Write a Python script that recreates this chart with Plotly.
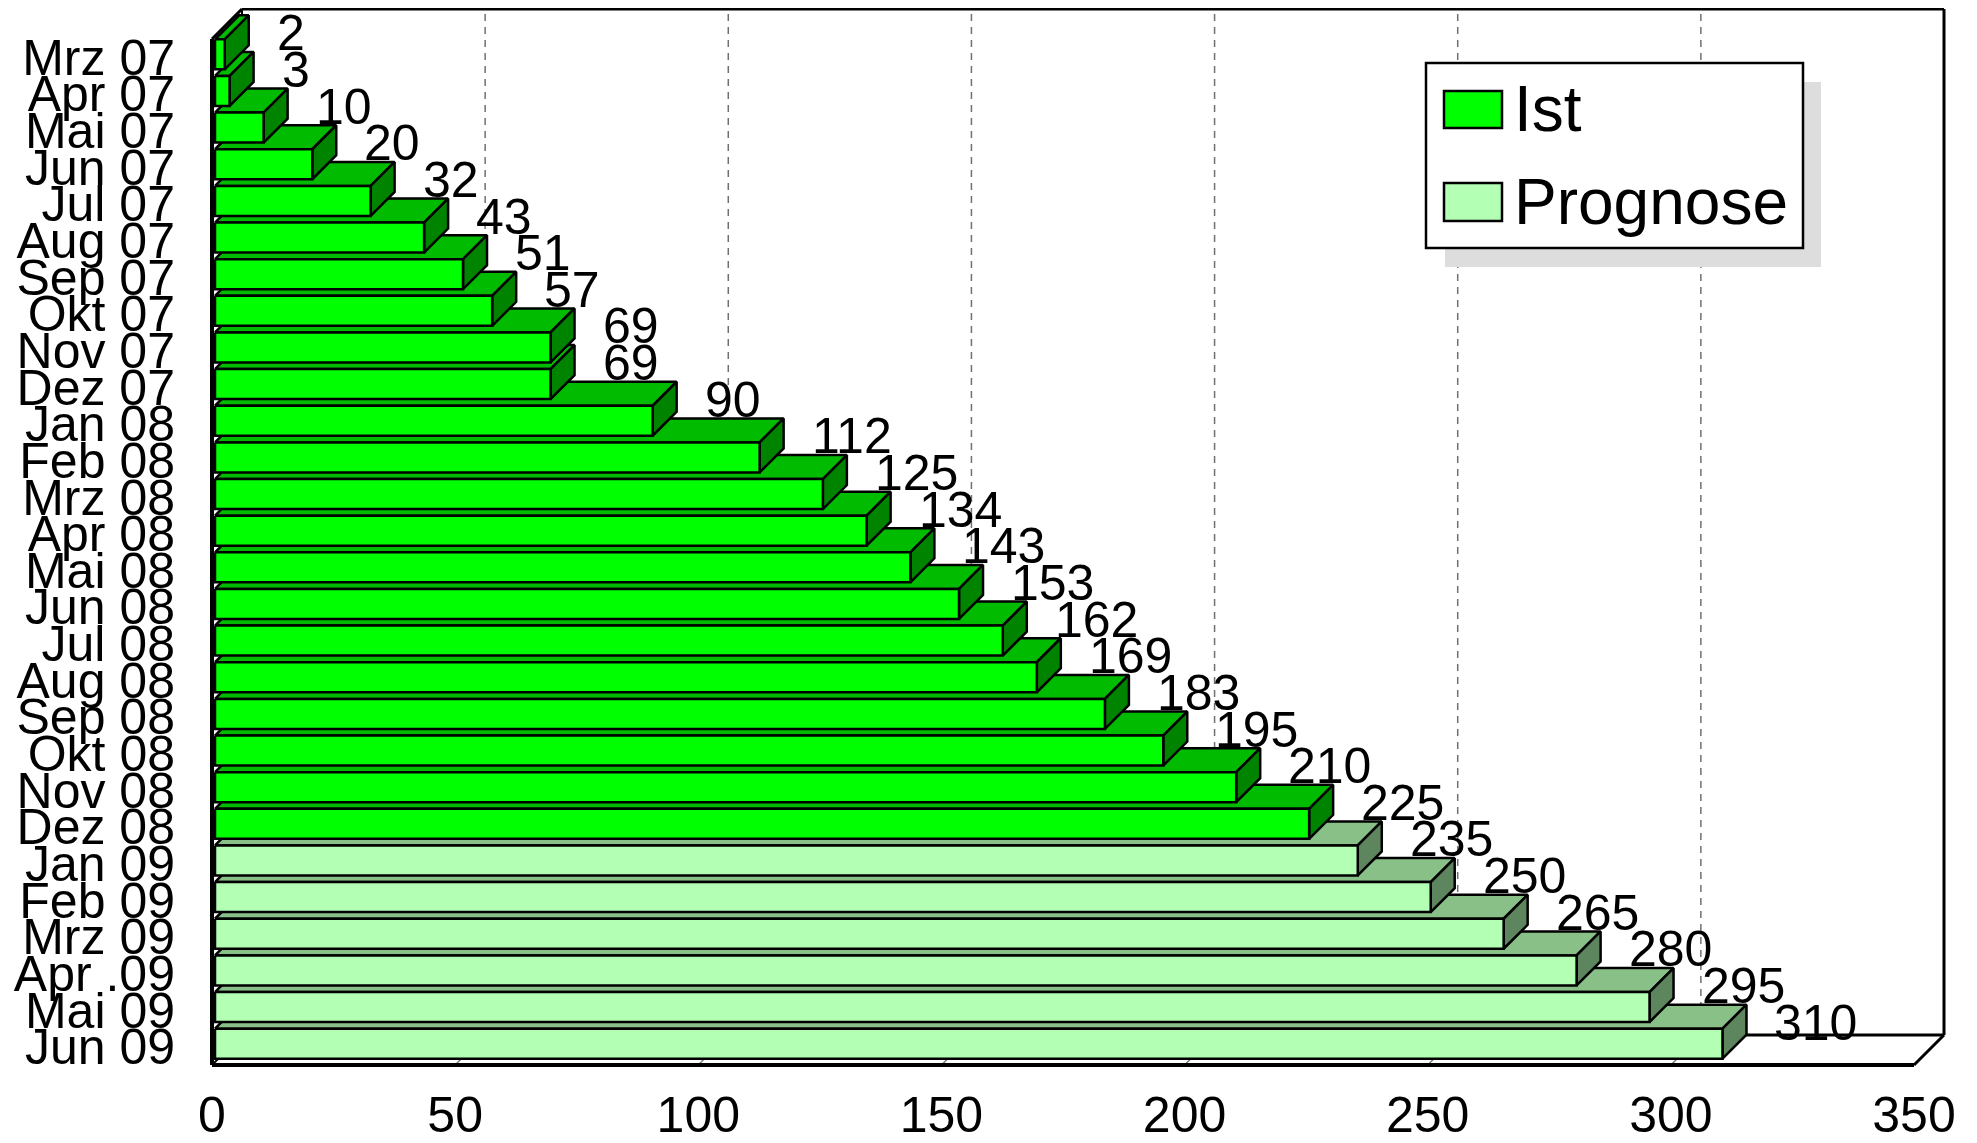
import plotly.graph_objects as go

# ---------------- data ----------------
categories = ["Mrz 07", "Apr 07", "Mai 07", "Jun 07", "Jul 07", "Aug 07", "Sep 07",
              "Okt 07", "Nov 07", "Dez 07", "Jan 08", "Feb 08", "Mrz 08", "Apr 08",
              "Mai 08", "Jun 08", "Jul 08", "Aug 08", "Sep 08", "Okt 08", "Nov 08",
              "Dez 08", "Jan 09", "Feb 09", "Mrz 09", "Apr .09", "Mai 09", "Jun 09"]
ist_values = [2, 3, 10, 20, 32, 43, 51, 57, 69, 69, 90, 112, 125, 134, 143, 153,
              162, 169, 183, 195, 210, 225]
prognose_values = [235, 250, 265, 280, 295, 310]
x_ticks = [0, 50, 100, 150, 200, 250, 300, 350]
series_names = ["Ist", "Prognose"]

# ---------------- styling / geometry (page pixels) ----------------
W, H = 1977, 1143
OFF = 8                       # default body margin of the html page
FIG_W, FIG_H = W - 2 * OFF, H - 2 * OFF
FONT = "Liberation Sans, Arial, Helvetica, sans-serif"
COL = {
    "Ist": {"front": "#00ff00", "top": "#00bb00", "side": "#008400"},
    "Prognose": {"front": "#b3ffb3", "top": "#88c088", "side": "#5e865e"},
}
X0_PX, XF_PX = 212, 1914      # front x = 0 / x = 350
YT_PX, YB_PX = 39, 1065       # front top / bottom
DEPTH = 30                    # wall depth (px)
BAR_D = 24                    # bar depth (px)
BAR_OFF = 3                   # bar front offset from front plane (px)
BAR_H = 30                    # bar thickness (px)
PADL, PADR, PADT, PADB = 4, 4, 1, 4

XMAX = x_ticks[-1]
n = len(categories)
ux = (XF_PX - X0_PX) / XMAX
uy = (YB_PX - YT_PX) / n

plot_l = X0_PX - PADL
plot_r = XF_PX + DEPTH + PADR
plot_t = YT_PX - DEPTH - PADT
plot_b = YB_PX + PADB
plot_w = plot_r - plot_l
plot_h = plot_b - plot_t

x_range = [-PADL / ux, (plot_r - X0_PX) / ux]
y_top = (plot_t - YT_PX) / uy - 0.5
y_bot = (plot_b - YT_PX) / uy - 0.5

wx, wy = DEPTH / ux, DEPTH / uy
bx, by = BAR_D / ux, BAR_D / uy
sx, sy = BAR_OFF / ux, BAR_OFF / uy
hh = BAR_H / uy / 2

yF_top, yF_bot = -0.5, n - 0.5
yB_top, yB_bot = yF_top - wy, yF_bot - wy


def px(xp):
    return (xp - plot_l) / plot_w


def py(yp):
    return 1 - (yp - plot_t) / plot_h


shapes = []


def line(x0, y0, x1, y1, color="black", width=3, dash=None):
    shapes.append(dict(type="line", x0=x0, y0=y0, x1=x1, y1=y1, layer="below",
                       xref="x", yref="y",
                       line=dict(color=color, width=width, dash=dash or "solid")))


# gridlines on back wall + floor
for t in x_ticks[1:-1]:
    line(t + wx, yB_bot, t + wx, yB_top, color="#707070", width=1.5, dash="7px,6px")
    line(t, yF_bot, t + wx, yB_bot, color="#707070", width=1.2)

# back wall
line(wx, yB_top, XMAX + wx, yB_top, width=3)
line(XMAX + wx, yB_top, XMAX + wx, yB_bot, width=3)
line(wx, yB_top, wx, yB_bot, width=2)
# floor
line(wx, yB_bot, XMAX + wx, yB_bot, width=3)
line(XMAX, yF_bot, XMAX + wx, yB_bot, width=3)
line(0, yF_bot, wx, yB_bot, width=2)
line(0, yF_bot, XMAX, yF_bot, width=4)
# left wall
line(0, yF_top, 0, yF_bot, width=4)
line(0, yF_top, wx, yB_top, width=3)

# ---------------- bars (front, top and side faces) ----------------
series = [("Ist", list(range(len(ist_values))), ist_values),
          ("Prognose", list(range(len(ist_values), n)), prognose_values)]

faces = {"top": [], "side": [], "front": []}
annotations = []
for name, idx, vals in series:
    poly = {"top": ([], []), "side": ([], []), "front": ([], [])}
    for i, v in zip(idx, vals):
        yc = i - sy
        x_a, x_b = sx, sx + v
        y_t, y_b = yc - hh, yc + hh
        poly["top"][0].extend([x_a, x_b, x_b + bx, x_a + bx, x_a, None])
        poly["top"][1].extend([y_t, y_t, y_t - by, y_t - by, y_t, None])
        poly["side"][0].extend([x_b, x_b + bx, x_b + bx, x_b, x_b, None])
        poly["side"][1].extend([y_t, y_t - by, y_b - by, y_b, y_t, None])
        poly["front"][0].extend([x_a, x_b, x_b, x_a, x_a, None])
        poly["front"][1].extend([y_t, y_t, y_b, y_b, y_t, None])
        annotations.append(dict(
            x=x_b + 50 / ux, y=yc - 21 / uy, xref="x", yref="y", text=str(v),
            showarrow=False, xanchor="left", yanchor="middle",
            font=dict(family=FONT, size=50, color="black")))
    for face in ("top", "side", "front"):
        xs, ys = poly[face]
        faces[face].append(go.Scatter(
            x=xs, y=ys, mode="lines", fill="toself", name=name,
            fillcolor=COL[name][face], line=dict(color="black", width=2.5),
            hoverinfo="skip", showlegend=False))

fig = go.Figure(faces["top"] + faces["side"] + faces["front"])

# ---------------- legend (drawn) ----------------
shapes.append(dict(type="rect", xref="paper", yref="paper", x0=px(1445), x1=px(1821),
                   y0=py(82), y1=py(267), fillcolor="#dddddd", line=dict(width=0),
                   layer="above"))
shapes.append(dict(type="rect", xref="paper", yref="paper", x0=px(1426), x1=px(1803),
                   y0=py(63), y1=py(248), fillcolor="white",
                   line=dict(color="black", width=2.5), layer="above"))
leg_rows = [(series_names[0], 91, 128, 109), (series_names[1], 183, 221, 202)]
for name, y0, y1, yc in leg_rows:
    shapes.append(dict(type="rect", xref="paper", yref="paper", x0=px(1444), x1=px(1502),
                       y0=py(y0), y1=py(y1), fillcolor=COL[name]["front"],
                       line=dict(color="black", width=2.5), layer="above"))
    annotations.append(dict(x=px(1512), y=py(yc), xref="paper", yref="paper", text=name,
                            showarrow=False, xanchor="left", yanchor="middle",
                            font=dict(family=FONT, size=64, color="black")))

fig.update_layout(
    width=FIG_W, height=FIG_H,
    margin=dict(l=plot_l - OFF, r=(W - OFF) - plot_r, t=plot_t - OFF,
                b=(H - OFF) - plot_b, pad=0),
    paper_bgcolor="white", plot_bgcolor="white",
    showlegend=False,
    shapes=shapes, annotations=annotations,
    font=dict(family=FONT, color="black"),
    xaxis=dict(range=x_range, tickmode="array", tickvals=x_ticks,
               ticktext=[str(t) for t in x_ticks], showgrid=False, zeroline=False,
               showline=False, ticks="outside", ticklen=2, tickcolor="rgba(0,0,0,0)",
               tickfont=dict(family=FONT, size=50, color="black"), automargin=False,
               fixedrange=True),
    yaxis=dict(range=[y_bot, y_top], tickmode="array", tickvals=list(range(n)),
               ticktext=categories, showgrid=False, zeroline=False, showline=False,
               ticks="outside", ticklen=22, tickcolor="rgba(0,0,0,0)",
               tickfont=dict(family=FONT, size=50, color="black"), automargin=False,
               fixedrange=True),
)

fig.write_html("out.html")
